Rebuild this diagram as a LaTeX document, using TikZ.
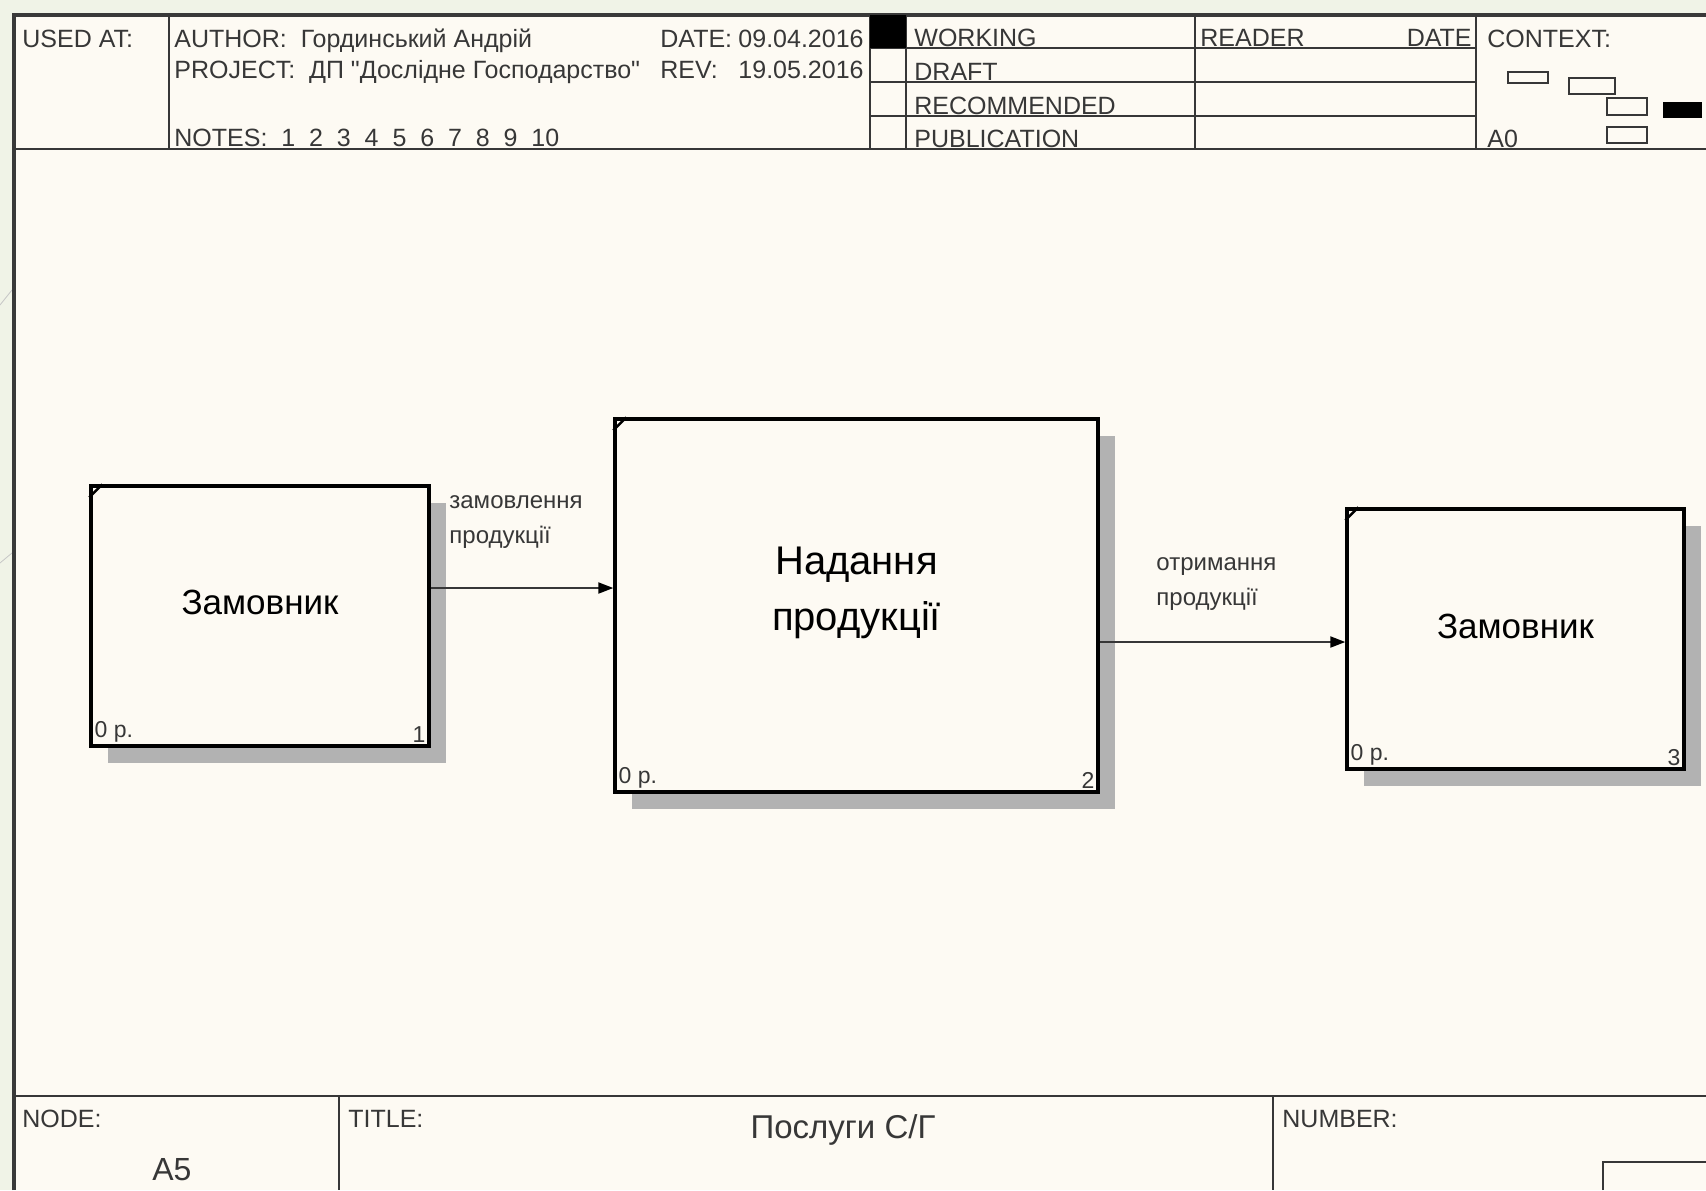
\documentclass[tikz,border=0pt]{standalone}
\usepackage{fontspec}
\setmainfont{Liberation Sans}[Ligatures=TeXOff]
\usetikzlibrary{arrows.meta,shadows}
\definecolor{slide}{RGB}{240,243,231}
\definecolor{paper}{RGB}{253,250,243}
\definecolor{ink}{RGB}{55,55,55}

\begin{document}
\begin{tikzpicture}[x=0.5pt,y=-0.5pt,
    rule/.style={ink,line width=1pt},
    hdr/.style={inner sep=0pt,anchor=base west,font=\fontsize{12.5}{14}\selectfont,text=ink},
    actbox/.style={draw=black,line width=1.7pt,fill=paper,align=center,
      drop shadow={shadow xshift=8.5pt,shadow yshift=-8.5pt,opacity=1,fill=black!30}},
    cost/.style={inner sep=2.5pt,anchor=south west,font=\fontsize{11.5}{12}\selectfont,text=ink},
    boxnum/.style={inner sep=2.5pt,anchor=south east,font=\fontsize{11.5}{12}\selectfont,text=ink},
    flow/.style={ink,line width=1pt,-{Triangle[length=7.5pt,width=5.5pt,color=black]}},
    flowlbl/.style={inner sep=0pt,anchor=west,align=left,font=\fontsize{12}{17.5}\selectfont,text=ink}]
  \useasboundingbox (0,0) rectangle (1706,1190);
  \fill[slide] (0,0) rectangle (1706,1190);
  \fill[paper] (14,15) rectangle (1706,1190);
  \draw[gray!45,line width=0.4pt] (0,305) -- (12,290) (0,563) -- (12,553);

  % frame, header and footer
  \draw[gray!45!black,line width=2pt] (14,1190) -- (14,15) -- (1706,15);
  \draw[rule] (14,149) -- (1706,149);
  \foreach \xx in {169,870,906,1195,1476}
    \draw[rule] (\xx,15) -- (\xx,149);
  \foreach \yy in {48,82,116}
    \draw[rule] (870,\yy) -- (1476,\yy);
  \fill[black] (870,15) rectangle (906,48);
  \node[hdr] (usedat) at (22,47) {USED AT:};
  \node[hdr] (author) at (174,47) {AUTHOR:\ \ Гординський Андрій};
  \node[hdr] (project) at (174,78) {PROJECT:\ \ ДП "Дослідне Господарство"};
  \node[hdr] (notes) at (174,146) {NOTES:~~1~~2~~3~~4~~5~~6~~7~~8~~9~~10};
  \node[hdr] (datelbl) at (660,47) {DATE:};
  \node[hdr,anchor=base east] (dateval) at (864,47) {09.04.2016};
  \node[hdr] (revlbl) at (660,78) {REV:};
  \node[hdr,anchor=base east] (revval) at (864,78) {19.05.2016};
  \node[hdr] (working) at (914,46) {WORKING};
  \node[hdr] (draft) at (914,80) {DRAFT};
  \node[hdr] (recom) at (914,114) {RECOMMENDED};
  \node[hdr] (public) at (914,147) {PUBLICATION};
  \node[hdr] (reader) at (1200,46) {READER};
  \node[hdr,anchor=base east] (rdate) at (1472,46) {DATE};
  \node[hdr] (context) at (1487,47) {CONTEXT:};
  \node[hdr] (ctxnode) at (1487,147) {A0};
  \draw[ink,line width=1.2pt] (1508,72) rectangle (1548,83) (1569,78) rectangle (1615,94)
    (1607,98) rectangle (1647,115) (1607,127) rectangle (1647,143);
  \fill[black] (1663,102) rectangle (1702,118);

  \draw[rule] (14,1096) -- (1706,1096);
  \draw[rule] (339,1096) -- (339,1190) (1273,1096) -- (1273,1190);
  \draw[rule] (1603,1190) -- (1603,1162) -- (1706,1162);
  \node[hdr] (nodelbl) at (22,1127) {NODE:};
  \node[hdr,font=\fontsize{16}{18}\selectfont] (nodeval) at (152,1180) {A5};
  \node[hdr] (titlelbl) at (348,1127) {TITLE:};
  \node[hdr,anchor=base,font=\fontsize{16.5}{18}\selectfont] (title) at (843,1138) {Послуги С/Г};
  \node[hdr] (numlbl) at (1282,1127) {NUMBER:};

  % activity boxes
  \node[actbox,minimum width=169pt,minimum height=130pt,text depth=14pt,
    font=\fontsize{17.5}{21}\selectfont] (zam1) at (260,616) {Замовник};
  \node[actbox,minimum width=241.5pt,minimum height=186.5pt,text depth=17pt,
    font=\fontsize{20}{28}\selectfont] (nad) at (856.5,605.5) {Надання\\продукції};
  \node[actbox,minimum width=168.5pt,minimum height=130pt,text depth=13pt,
    font=\fontsize{17.5}{21}\selectfont] (zam2) at (1515.5,639) {Замовник};
  \foreach \b/\n in {zam1/1,nad/2,zam2/3} {
    \draw[line width=1.3pt] ([yshift=-6.5pt]\b.north west) -- ([xshift=6.5pt]\b.north west);
    \node[cost] (cost\n) at (\b.south west) {0 р.};
    \node[boxnum] (num\n) at (\b.south east) {\n};
  }

  % arrows
  \coordinate (o1) at ([yshift=14pt]zam1.east);
  \coordinate (o2) at ([yshift=-18.25pt]nad.east);
  \draw[flow] (o1) -- (o1 -| nad.west);
  \draw[flow] (o2) -- (o2 -| zam2.west);
  \node[flowlbl] (order) at (449,522) {замовлення\\продукції};
  \node[flowlbl] (receipt) at (1156,584) {отримання\\продукції};
\end{tikzpicture}
\end{document}
